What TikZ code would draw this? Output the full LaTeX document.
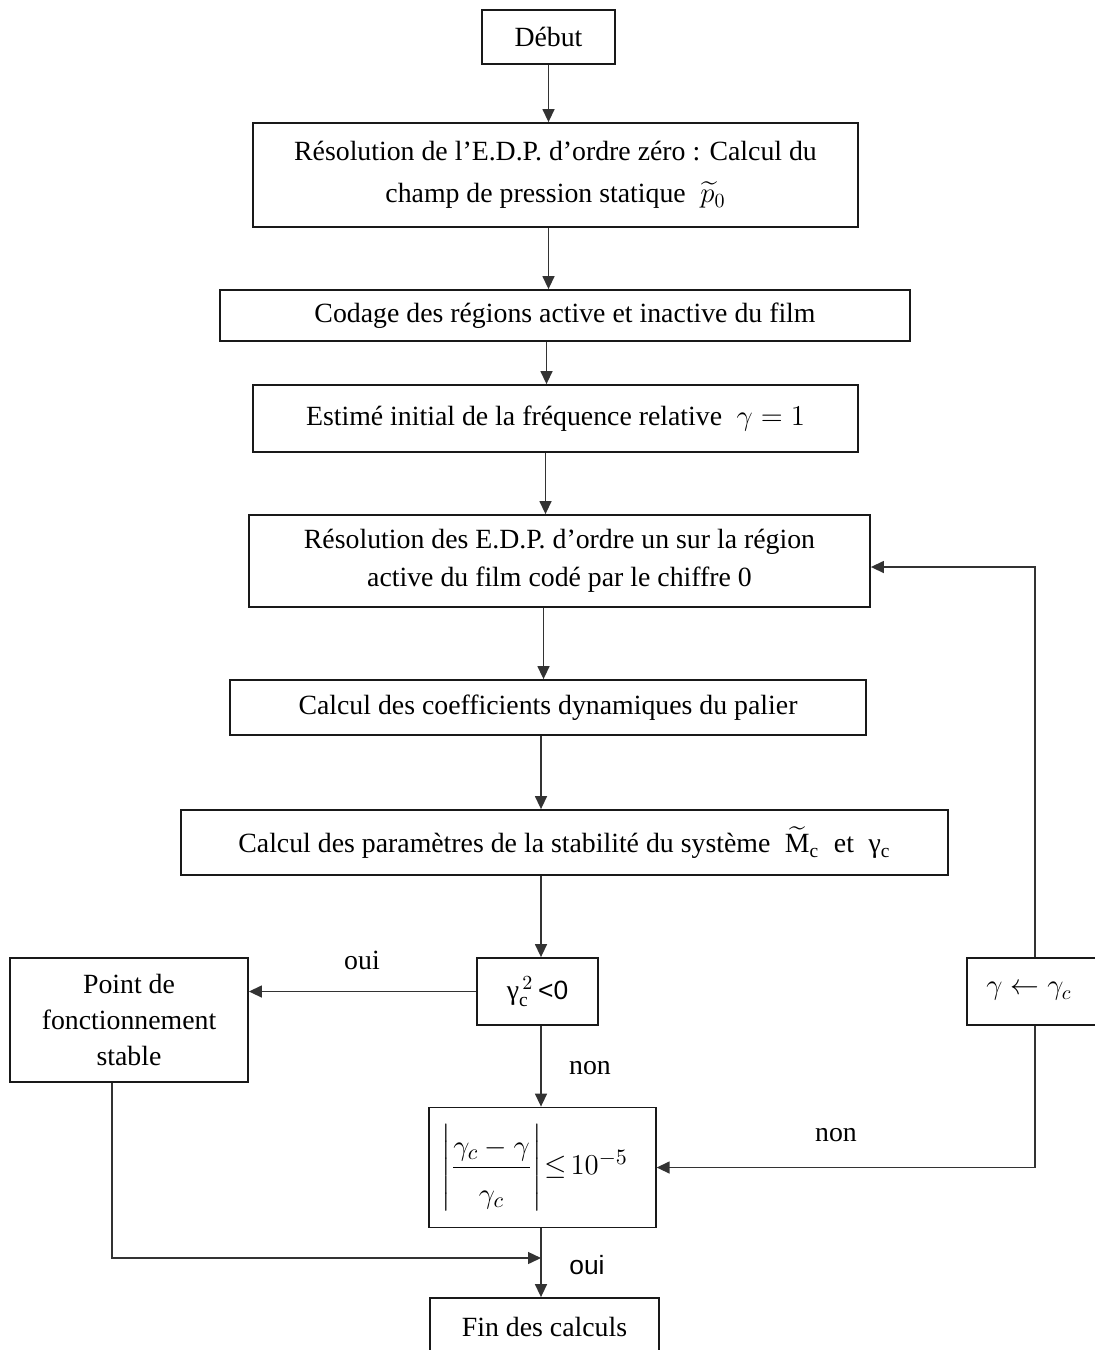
\documentclass[tikz,border=0pt]{standalone}
\usepackage{amsmath}
\usepackage{fontspec}
\setmainfont{Liberation Serif}
\newfontfamily\labsans{Liberation Sans}
\usetikzlibrary{arrows.meta,calc}
\begin{document}
\begin{tikzpicture}[x=0.5pt,y=-0.5pt,
  box/.style={draw=black!90,line width=0.9pt,rectangle,inner sep=0pt,align=center,
    font=\fontsize{13.9}{19}\selectfont},
  arr/.style={draw=black!80,line width=0.7pt,-{Triangle[length=6.5pt,width=6pt]}},
  conn/.style={draw=black!80,line width=0.7pt},
  lab/.style={font=\fontsize{13.9}{17}\selectfont,inner sep=0pt},
  labs/.style={font=\labsans\fontsize{13.2}{16}\selectfont,inner sep=0pt}]
\useasboundingbox (0,0) rectangle (1095,1350);
\clip (0,0) rectangle (1095,1350);

\node[box,minimum width=66.5pt,minimum height=27pt] (debut) at (548.5,37) {Début};
\node[box,minimum width=302.5pt,minimum height=52pt,font=\fontsize{13.9}{21}\selectfont] (edp0) at (555.5,175)
  {Résolution de l’E.D.P. d’ordre zéro : Calcul du\\ champ de pression statique \;$\widetilde{p}_0$};
\node[box,minimum width=345pt,minimum height=25.5pt] (codage) at (565,315.5)
  {Codage des régions active et inactive du film};
\node[box,minimum width=302.5pt,minimum height=33.5pt] (estime) at (555.5,418.5)
  {Estimé initial de la fréquence relative \;$\gamma=1$};
\node[box,minimum width=310.5pt,minimum height=46pt] (edp1) at (559.5,561)
  {Résolution des E.D.P. d’ordre un sur la région\\ active du film codé par le chiffre 0};
\node[box,minimum width=318pt,minimum height=27.5pt] (coef) at (548,707.5)
  {Calcul des coefficients dynamiques du palier};
\node[box,minimum width=383.5pt,minimum height=32.5pt] (param) at (564.5,842.5)
  {Calcul des paramètres de la stabilité du système \;$\widetilde{\mathrm{M}}_{\mathrm{c}}$\; et \;γ$_{\mathrm{c}}$};
\node[box,minimum width=60.5pt,minimum height=33.5pt] (dec) at (537.5,991.5)
  {γ$_{\mathrm{c}}^{\,2}$\,{\labsans\fontsize{13.2}{16}\selectfont<0}};
\node[box,minimum width=119pt,minimum height=62pt,font=\fontsize{13.9}{18}\selectfont] (point) at (129,1020)
  {Point de\\ fonctionnement\\ stable};
\node[box,minimum width=111.5pt,minimum height=60pt,font=\fontsize{15.5}{18}\selectfont] (tol) at (542.5,1167.5)
  {\hspace*{6pt}$\left|\dfrac{\rule[-4pt]{0pt}{15pt}\gamma_c-\gamma}{\rule{0pt}{16pt}\gamma_c}\right|\!\le\! 10^{-5}$\hspace*{14pt}};
\node[box,minimum width=68pt,minimum height=33.5pt] (gam) at (1035,991.5)
  {$\gamma\leftarrow\gamma_c$\hspace*{6pt}};
\node[box,minimum width=114.5pt,minimum height=29pt] (fin) at (544.5,1327)
  {Fin des calculs};

\coordinate (ax) at (541,0);
\coordinate (join) at (541,1258);

\draw[arr] (debut.south) -- (debut.south |- edp0.north);
\draw[arr] (edp0.south -| debut) -- (codage.north -| debut);
\draw[arr] ([xshift=-1pt]codage.south -| debut) -- ([xshift=-1pt]estime.north -| debut);
\draw[arr] ([xshift=-1.5pt]estime.south -| debut) -- ([xshift=-1.5pt]edp1.north -| debut);
\draw[arr] ([xshift=-2.5pt]edp1.south -| debut) -- ([xshift=-2.5pt]coef.north -| debut);
\draw[arr] (coef.south -| ax) -- (param.north -| ax);
\draw[arr] (param.south -| ax) -- (dec.north -| ax);
\draw[arr] (dec.south -| ax) -- (tol.north -| ax);
\draw[arr] (tol.south -| ax) -- (fin.north -| ax);

\draw[arr] (dec.west) -- (dec.west -| point.east);
\draw[arr] ([xshift=-8.5pt]point.south) |- (join);
\draw[arr] (gam.north) |- ([yshift=-3pt]edp1.east);
\draw[arr] (gam.south) |- (tol.east);

\node[lab] (l1) at (362,960) {oui};
\node[lab] (l2) at (590,1068) {non};
\node[lab] (l3) at (836,1135) {non};
\node[labs] (l4) at (587,1265) {oui};
\end{tikzpicture}
\end{document}
